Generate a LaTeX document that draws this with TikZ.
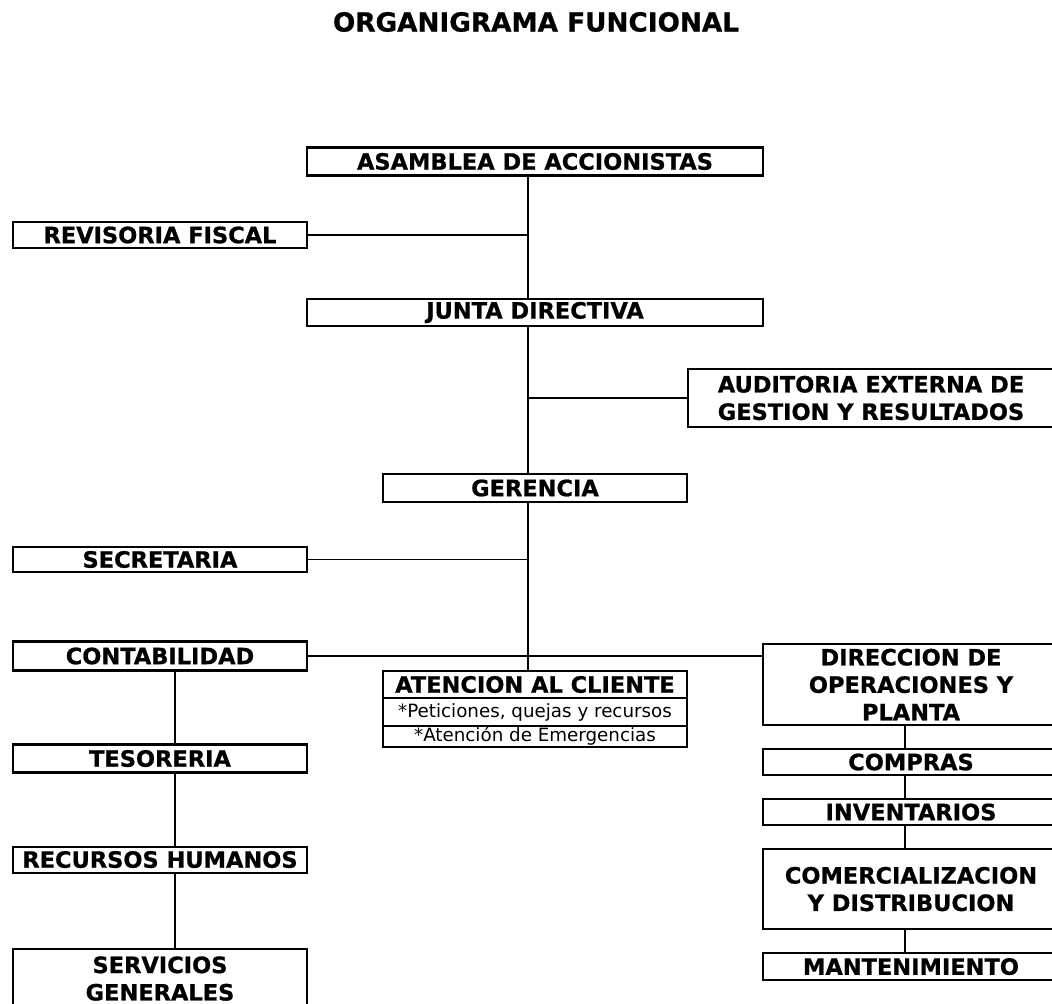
\documentclass[tikz,border=0pt]{standalone}
\usepackage{fontspec}
\setmainfont{DejaVu Sans}[BoldFeatures={FakeBold=0.8}]
\usetikzlibrary{positioning}

\begin{document}
\begin{tikzpicture}[
x=0.025cm, y=-0.025cm,
node distance=0.6cm,
box/.style={draw, rectangle, line width=1.5pt, inner sep=0pt, outer sep=0pt,
minimum height=0.65cm, align=center,
font=\bfseries\fontsize{16}{19.5}\selectfont},
side/.style={box, minimum width=7.35cm},
ops/.style={box, minimum width=7.4cm},
sub/.style={draw, rectangle, line width=1.5pt, inner sep=0pt, outer sep=0pt,
minimum width=7.6cm, font=\fontsize{13}{15}\selectfont},
link/.style={line width=1.4pt}
]
\useasboundingbox (0,0) rectangle (1052,1004);
\clip (0,0) rectangle (1052,1004);

\node[font=\bfseries\fontsize{18.7}{22}\selectfont] (titulo) at (536,22) {ORGANIGRAMA FUNCIONAL};

% ejes de las lineas
\coordinate (ejeprincipal) at (528,0);
\coordinate (ejeizq) at (175,0);
\coordinate (ejeder) at (905,0);

\node[box, minimum width=11.4cm, minimum height=0.7cm] (asamblea) at (535,161.5) {ASAMBLEA DE ACCIONISTAS};
\node[side] (revisoria) at (160,235) {REVISORIA FISCAL};
\node[box, minimum width=11.4cm, minimum height=0.675cm] (junta) at (535,312.5) {JUNTA DIRECTIVA};
\node[box, minimum width=9.15cm, minimum height=1.45cm] (auditoria) at (871,398) {AUDITORIA EXTERNA DE\\GESTION Y RESULTADOS};
\node[box, minimum width=7.6cm, minimum height=0.7cm] (gerencia) at (535,488) {GERENCIA};
\node[side, minimum height=0.625cm] (secretaria) at (160,559.5) {SECRETARIA};

% columna izquierda
\node[side, minimum height=0.725cm] (contabilidad) at (160,656) {CONTABILIDAD};
\node[side, minimum height=0.7cm, below=1.85cm of contabilidad] (tesoreria) {TESORERIA};
\node[side, below=1.85cm of tesoreria] (rrhh) {RECURSOS HUMANOS};
\node[side, minimum height=1.5cm, below=1.9cm of rrhh] (servicios) {SERVICIOS\\GENERALES};

% atencion al cliente
\node[box, minimum width=7.6cm, minimum height=0.675cm] (atencion) at (535,684.5) {ATENCION AL CLIENTE};
\node[sub, minimum height=0.7cm, below=0pt of atencion] (peticiones) {*Peticiones, quejas y recursos};
\node[sub, minimum height=0.525cm, below=0pt of peticiones] (emergencias) {*Atención de Emergencias};

% columna derecha
\node[ops, minimum height=2.025cm] (direccion) at (911,684.5) {DIRECCION DE\\OPERACIONES Y\\PLANTA};
\node[ops, below=of direccion] (compras) {COMPRAS};
\node[ops, below=of compras] (inventarios) {INVENTARIOS};
\node[ops, minimum height=2cm, below=of inventarios] (comercial) {COMERCIALIZACION\\Y DISTRIBUCION};
\node[ops, minimum height=0.675cm, below=of comercial] (mantenimiento) {MANTENIMIENTO};

\draw[link] (asamblea.south -| ejeprincipal) -- (junta.north -| ejeprincipal);
\draw[link] (revisoria.east) -- (revisoria.east -| ejeprincipal);
\draw[link] (junta.south -| ejeprincipal) -- (gerencia.north -| ejeprincipal);
\draw[link] (auditoria.west -| ejeprincipal) -- (auditoria.west);
\draw[link] (gerencia.south -| ejeprincipal) -- (atencion.north -| ejeprincipal);
\draw[link] (secretaria.east) -- (secretaria.east -| ejeprincipal);
\draw[link] (contabilidad.east) -- (contabilidad.east -| direccion.west);

\draw[link] (contabilidad.south -| ejeizq) -- (tesoreria.north -| ejeizq);
\draw[link] (tesoreria.south -| ejeizq) -- (rrhh.north -| ejeizq);
\draw[link] (rrhh.south -| ejeizq) -- (servicios.north -| ejeizq);

\draw[link] (direccion.south -| ejeder) -- (compras.north -| ejeder);
\draw[link] (compras.south -| ejeder) -- (inventarios.north -| ejeder);
\draw[link] (inventarios.south -| ejeder) -- (comercial.north -| ejeder);
\draw[link] (comercial.south -| ejeder) -- (mantenimiento.north -| ejeder);

\end{tikzpicture}
\end{document}
